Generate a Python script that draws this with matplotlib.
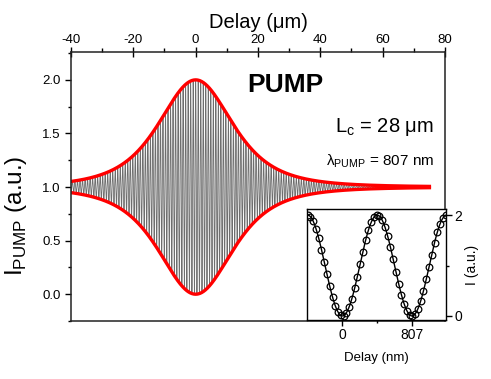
import numpy as np
import matplotlib.pyplot as plt

plt.rcParams['font.family'] = ['Liberation Sans', 'DejaVu Sans']
plt.rcParams['axes.unicode_minus'] = False

# chart parameters
coherence_len = 28.0      # L_c (um), FWHM of the envelope
wavelength_um = 0.807     # lambda_PUMP (um)
wavelength_nm = 807.0
delay_range = [-40.0, 75.0]        # span of the measured trace (um)
inset_range = [-411.0, 1202.0]     # span of the inset scan (nm)
inset_step = 32.0                  # spacing of inset samples (nm)

main_xticks = [-40, -20, 0, 20, 40, 60, 80]
main_yticks = [0.0, 0.5, 1.0, 1.5, 2.0]
inset_xticks = [0, 807]
inset_yticks = [0, 2]

# interferogram: envelope with FWHM = L_c (squared-Lorentzian shape), carrier at lambda
x = np.linspace(delay_range[0], delay_range[1], 20000)
b = coherence_len / 2 / np.sqrt(np.sqrt(2) - 1)
env = 1 / (1 + (x / b)**2)**2
signal = 1 + env * np.cos(2 * np.pi * x / wavelength_um)

fig = plt.figure(figsize=(4.91, 3.79), dpi=100)
ax = fig.add_axes([0.1446, 0.153, 0.7617, 0.7098])

ax.plot(x, signal, color='#6e6e6e', lw=0.6)
ax.plot(x, 1 + env, color='#ff0000', lw=2.4)
ax.plot(x, 1 - env, color='#ff0000', lw=2.4)

ax.set_xlim(-40, 80)
ax.set_ylim(-0.25, 2.26)
ax.xaxis.set_ticks_position('top')
ax.xaxis.set_label_position('top')
ax.set_xticks(main_xticks)
ax.set_xticks(np.arange(-30, 80, 20), minor=True)
ax.set_yticks(main_yticks)
ax.set_yticklabels([f'{v:.1f}' for v in main_yticks])
ax.set_yticks(np.arange(-0.25, 2.3, 0.5), minor=True)
ax.tick_params(axis='x', which='major', direction='inout', length=7, width=1, labelsize=9.5, pad=1)
ax.tick_params(axis='x', which='minor', direction='out', length=3, width=1)
ax.tick_params(axis='y', which='major', direction='out', length=4, width=1, labelsize=9.5)
ax.tick_params(axis='y', which='minor', direction='out', length=2, width=1)
for s in ax.spines.values():
    s.set_linewidth(1.1)
    s.set_color('#222222')

ax.set_xlabel('Delay (\u03bcm)', fontsize=14.5, labelpad=4)
ax.set_ylabel(r'I$_{\mathregular{PUMP}}$ (a.u.)', fontsize=17.5)
ax.yaxis.set_label_coords(-0.112, 0.39)

ax.text(0.572, 0.877, 'PUMP', transform=ax.transAxes, fontsize=19,
        fontweight='bold', ha='center', va='center')
ax.text(0.97, 0.721, r'L$_{\mathregular{c}}$ = 28 $\mathregular{\mu}$m', transform=ax.transAxes,
        fontsize=14.5, ha='right', va='center')
ax.text(0.97, 0.595, r'$\mathregular{\lambda_{PUMP}}$ = 807 nm', transform=ax.transAxes,
        fontsize=11, ha='right', va='center')

# inset: one period scan
xi = np.linspace(inset_range[0], inset_range[1], 600)
yi = 1 - np.cos(2 * np.pi * xi / wavelength_nm)
xp = np.arange(inset_range[0] + 8, inset_range[1], inset_step)
yp = 1 - np.cos(2 * np.pi * xp / wavelength_nm)

axi = fig.add_axes([0.6253, 0.1557, 0.2830, 0.2928])
axi.plot(xi, yi, color='black', lw=1.0)
axi.plot(xp, yp, 'o', mfc='none', mec='black', ms=4.8, mew=0.9)
axi.set_xlim(inset_range)
axi.set_ylim(-0.08, 2.12)
axi.yaxis.set_ticks_position('right')
axi.yaxis.set_label_position('right')
axi.set_xticks(inset_xticks)
axi.set_xticks([403.5], minor=True)
axi.set_yticks(inset_yticks)
axi.set_yticks([1], minor=True)
axi.tick_params(axis='both', which='major', direction='out', length=4, width=1, labelsize=10, pad=2)
axi.tick_params(axis='both', which='minor', direction='out', length=2, width=1)
for s in axi.spines.values():
    s.set_linewidth(1.0)
axi.set_xlabel('Delay (nm)', fontsize=9.5, labelpad=7)
axi.set_ylabel('I (a.u.)', fontsize=10, labelpad=2)

fig.savefig('out.png', dpi=100)
